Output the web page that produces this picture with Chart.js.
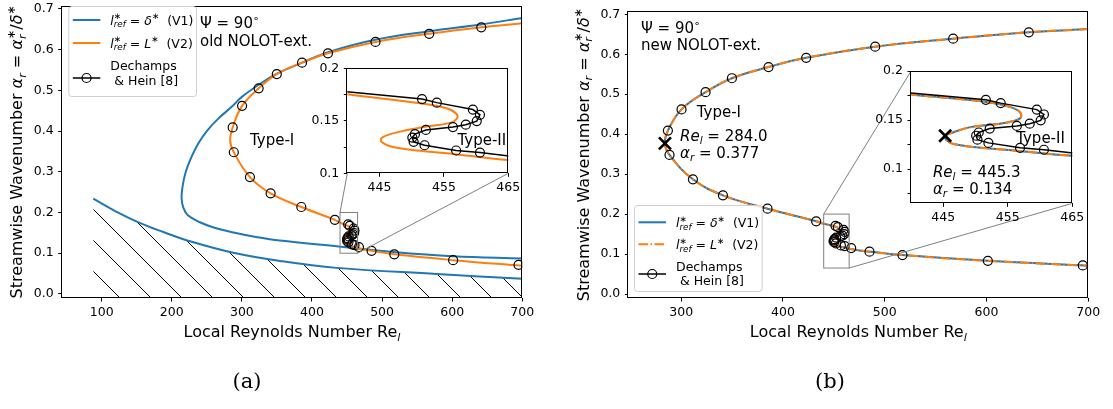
<!DOCTYPE html>
<html>
<head>
<meta charset="utf-8">
<script src="https://cdn.jsdelivr.net/npm/chart.js@4/dist/chart.umd.min.js"></script>
<style>
  html, body { margin: 0; padding: 0; background: #fff; }
  #fig { position: relative; width: 1113px; height: 409px; overflow: hidden; background: #fff; }
  #fig canvas { position: absolute; }
</style>
</head>
<body>
<div id="fig">
  <canvas id="mainA" width="556" height="409" style="left:0px;top:0px"></canvas>
  <canvas id="mainB" width="557" height="409" style="left:556px;top:0px"></canvas>
  <canvas id="insetA" width="225" height="140" style="left:300px;top:60px"></canvas>
  <canvas id="insetB" width="225" height="170" style="left:860px;top:60px"></canvas>
</div>
<script>
// ---------------- data: local Reynolds number Re_l and wavenumber alpha_r ----------------

// (a) old NOLOT-ext., V1 (l*_ref = delta*): closed neutral branch, traced from upper right round the nose
const v1OldRe    = [700, 641, 567, 490, 423, 386, 350, 326, 300, 287, 266, 250, 238, 228, 220, 215.5, 214, 216.5, 223, 240, 262, 288, 320, 354, 435, 516, 601, 700];
const v1OldAlpha = [0.678, 0.662, 0.6455, 0.6245, 0.594, 0.568, 0.541, 0.516, 0.484, 0.462, 0.430, 0.400, 0.370, 0.336, 0.300, 0.265, 0.235, 0.212, 0.193, 0.176, 0.162, 0.151, 0.140, 0.131, 0.117, 0.103, 0.0926, 0.087];

// (a) old NOLOT-ext., V1 second branch (region below it is hatched)
const v1LowRe    = [88, 120, 155, 188, 221, 288, 354, 435, 578, 700];
const v1LowAlpha = [0.234, 0.203, 0.174, 0.152, 0.132, 0.101, 0.081, 0.064, 0.049, 0.037];

// (a) old NOLOT-ext., V2 (l*_ref = L*)
const v2OldRe    = [700, 641.5, 567, 490.6, 422.8, 385.8, 349.8, 323.9, 300.3, 286.9, 283.3, 288.5, 311.5, 341, 384.8, 432.6, 440, 451.3, 455.4, 456.9, 457.0, 455.9, 451.8, 447.7, 445.4, 445.3, 447.1, 451.3, 457.0, 465, 485, 517.4, 601.3, 700];
const v2OldAlpha = [0.665, 0.655, 0.639, 0.619, 0.591, 0.568, 0.540, 0.505, 0.462, 0.409, 0.376, 0.348, 0.287, 0.247, 0.2135, 0.182, 0.1752, 0.1667, 0.1620, 0.1570, 0.1520, 0.1480, 0.1440, 0.1390, 0.1340, 0.1300, 0.1250, 0.1215, 0.1180, 0.1127, 0.106, 0.0974, 0.083, 0.069];

// (b) new NOLOT-ext.: V1 and V2 give the same neutral curve
const newRe    = [700, 641.5, 567.2, 490.6, 422.8, 385.8, 349.8, 323.9, 300.3, 286.9, 284.0, 288.5, 311.5, 341.0, 384.8, 432.6, 440, 451.2, 455.3, 456.9, 457.0, 455.9, 453.5, 449.2, 446.0, 445.3, 445.5, 446.6, 450.5, 456.7, 465, 485, 517.4, 601.3, 700];
const newAlpha = [0.663, 0.655, 0.639, 0.619, 0.591, 0.568, 0.540, 0.505, 0.462, 0.409, 0.377, 0.348, 0.287, 0.247, 0.2135, 0.182, 0.176, 0.169, 0.1635, 0.158, 0.1525, 0.149, 0.146, 0.1428, 0.1362, 0.134, 0.1295, 0.1255, 0.122, 0.1185, 0.1135, 0.106, 0.0974, 0.083, 0.0708];

// Dechamps & Hein [8]
const dhRe    = [641.5, 567.2, 490.6, 422.8, 385.8, 349.8, 323.9, 300.3, 286.9, 288.5, 311.5, 341.0, 384.8, 432.6, 451.6, 453.9, 459.5, 460.6, 460.1, 458.4, 456.4, 452.2, 450.5, 450.1, 450.3, 452.0, 456.9, 460.6, 467.0, 485.0, 517.4, 601.3, 694.6];
const dhAlpha = [0.655, 0.639, 0.619, 0.591, 0.568, 0.540, 0.505, 0.462, 0.409, 0.348, 0.287, 0.247, 0.2135, 0.182, 0.1707, 0.1673, 0.1607, 0.1557, 0.1497, 0.1463, 0.144, 0.1413, 0.1373, 0.134, 0.130, 0.1267, 0.1217, 0.1197, 0.115, 0.106, 0.0974, 0.083, 0.0716];

// critical points of the new model (Type-I, Type-II)
const critRe    = [284.0, 445.3];
const critAlpha = [0.377, 0.134];

// axis ranges and ticks
const reRangeA = [43, 700];
const reRangeB = [248, 700];
const alphaRange = [-0.01, 0.708];
const xTicksA = [100, 200, 300, 400, 500, 600, 700];
const xLabelsA = ['100', '200', '300', '400', '500', '600', '700'];
const xTicksB = [300, 400, 500, 600, 700];
const xLabelsB = ['300', '400', '500', '600', '700'];
const yTicks = [0, 0.1, 0.2, 0.3, 0.4, 0.5, 0.6, 0.7];
const yLabels = ['0.0', '0.1', '0.2', '0.3', '0.4', '0.5', '0.6', '0.7'];

// zoomed windows shown in the insets
const zoomRe = [440, 465];
const zoomAlphaA = [0.1, 0.2];
const zoomAlphaB = [0.065, 0.2];
const insetXTicks = [445, 455, 465];
const insetXLabels = ['445', '455', '465'];
const insetYTicksA = [0.1, 0.125, 0.15, 0.175, 0.2];
const insetYLabelsA = ['0.1', '', '0.15', '', '0.2'];
const insetYTicksB = [0.075, 0.1, 0.125, 0.15, 0.175, 0.2];
const insetYLabelsB = ['', '0.1', '', '0.15', '', '0.2'];

// ---------------- styling ----------------
const FONT = '"DejaVu Sans", Verdana, sans-serif';
const SERIF = '"DejaVu Serif", "Liberation Serif", serif';
const BLUE = '#1f77b4', ORANGE = '#ff7f0e', GREY = '#808080';
const TICK = 12.5, LEG = 12.5, ANN = 15, LAB = 16;
const DASHDOT = [9.6, 2.4, 1.5, 2.4];

// ---------------- rich text (sub/superscripts) ----------------
const T = t => ({t});
const I = t => ({t, i: 1});
const SUB = (t, it = 1) => ({t, i: it, s: 0.7, dy: 0.22});
const SUP = t => ({t, s: 0.7, dy: -0.42});
const STK = r => Object.assign({}, r, {stack: 1});

function fontOf(r, size) { return (r.i ? 'italic ' : '') + (size * (r.s || 1)).toFixed(2) + 'px ' + FONT; }
function layoutRuns(ctx, runs, size) {
  let x = 0, lastStart = 0;
  const items = [];
  for (const r of runs) {
    ctx.font = fontOf(r, size);
    const w = ctx.measureText(r.t).width;
    const sx = r.stack ? lastStart : x;
    if (!r.stack) lastStart = x;
    items.push({r, x: sx});
    x = Math.max(x, sx + w);
  }
  return {items, width: x};
}
function drawRuns(ctx, runs, x, y, size, align) {
  const L = layoutRuns(ctx, runs, size);
  const x0 = align === 'center' ? x - L.width / 2 : align === 'right' ? x - L.width : x;
  ctx.save();
  ctx.fillStyle = '#000';
  ctx.textAlign = 'left';
  ctx.textBaseline = 'alphabetic';
  for (const it of L.items) {
    ctx.font = fontOf(it.r, size);
    ctx.fillText(it.r.t, x0 + it.x, y + (it.r.dy || 0) * size);
  }
  ctx.restore();
}

const yTitleRuns = [T('Streamwise Wavenumber '), I('α'), SUB('r'), T(' = '), I('α'), SUP('∗'), STK(SUB('r')), T('/'), I('δ'), SUP('∗')];
const xTitleRuns = [T('Local Reynolds Number Re'), SUB('l')];
const legV1Runs = [I('l'), SUP('∗'), STK(SUB('ref')), T(' = '), I('δ'), SUP('∗'), T('  (V1)')];
const legV2Runs = [I('l'), SUP('∗'), STK(SUB('ref')), T(' = '), I('L'), SUP('∗'), T('  (V2)')];
const psiRuns = [T('Ψ = 90'), SUP('∘')];
const reRuns = k => [I('Re'), SUB('l'), T(' = ' + critRe[k].toFixed(1))];
const alRuns = k => [I('α'), SUB('r'), T(' = ' + critAlpha[k].toFixed(3))];

// ---------------- helpers ----------------
function pts(xs, ys) { return xs.map((x, i) => ({x, y: ys[i]})); }
function curve(xs, ys, color, extra) {
  return Object.assign({data: pts(xs, ys), borderColor: color, backgroundColor: color, borderWidth: 2,
    pointRadius: 0, tension: 0.4, fill: false}, extra || {});
}
function markers(xs, ys, line) {
  return {data: pts(xs, ys), showLine: !!line, borderColor: '#000', backgroundColor: '#000', borderWidth: 1.5, tension: 0,
    pointStyle: 'circle', pointRadius: 4.5, pointBorderColor: '#000', pointBorderWidth: 1.2,
    pointBackgroundColor: 'rgba(0,0,0,0)', fill: false};
}
function crossMark(xs, ys) {
  return {data: pts(xs, ys), showLine: false, pointStyle: 'crossRot', pointRadius: 8.5,
    pointBorderColor: '#000', pointBorderWidth: 2.6, pointBackgroundColor: '#000', fill: false};
}
function axis(kind, range, ticks, labels, size) {
  return {
    type: 'linear', position: kind === 'x' ? 'bottom' : 'left',
    min: range[0], max: range[1], bounds: 'data',
    afterBuildTicks: sc => { sc.ticks = ticks.map(v => ({value: v})); },
    afterFit: sc => {
      if (kind === 'x') sc.height = size; else sc.width = size;
      sc.paddingTop = 0; sc.paddingBottom = 0; sc.paddingLeft = 0; sc.paddingRight = 0;
    },
    ticks: {autoSkip: false, maxRotation: 0, minRotation: 0, color: '#000',
      font: {family: FONT, size: TICK}, padding: kind === 'x' ? 3.5 : 4.5,
      callback: (v, i) => labels[i]},
    grid: {display: true, drawOnChartArea: false, drawTicks: true, tickLength: 3.5, tickColor: '#000', tickWidth: 1},
    border: {display: false},
    title: {display: false}
  };
}
function options(pad, xs, ys) {
  return {
    responsive: false, animation: false, events: [],
    layout: {padding: pad},
    scales: {x: xs, y: ys},
    plugins: {legend: {display: false}, tooltip: {enabled: false}}
  };
}
function makeHatch(canvas, step, shift) {
  const c = document.createElement('canvas');
  c.width = c.height = step;
  const g = c.getContext('2d');
  g.strokeStyle = '#000';
  g.lineWidth = 1;
  g.beginPath();
  for (const k of [-1, 0, 1]) { g.moveTo(k * step - 1, -1); g.lineTo(k * step + step + 1, step + 1); }
  g.stroke();
  const p = canvas.getContext('2d').createPattern(c, 'repeat');
  p.setTransform(new DOMMatrix().translate(shift, 0));
  return p;
}
function frame(ctx, a) {
  ctx.save();
  ctx.strokeStyle = '#000';
  ctx.lineWidth = 1;
  const l = Math.round(a.left) - 0.5, t = Math.round(a.top) + 0.5;
  const r = Math.round(a.right) - 0.5, b = Math.round(a.bottom) - 0.5;
  ctx.strokeRect(l, t, r - l, b - t);
  ctx.restore();
}
function annotate(chart, list) {
  const {ctx, scales} = chart;
  for (const n of list) {
    drawRuns(chart.ctx, n.runs, scales.x.getPixelForValue(n.re), scales.y.getPixelForValue(n.alpha), n.size || ANN, 'left');
  }
}
function drawZoom(chart, alphaWin, inset, links) {
  const {ctx, scales: {x: sx, y: sy}} = chart;
  const L = sx.getPixelForValue(zoomRe[0]), R = sx.getPixelForValue(zoomRe[1]);
  const Tp = sy.getPixelForValue(alphaWin[1]), B = sy.getPixelForValue(alphaWin[0]);
  const box = {tl: [L, Tp], tr: [R, Tp], bl: [L, B], br: [R, B]};
  const c = inset.canvas, a = inset.chartArea;
  const ox = c.offsetLeft - chart.canvas.offsetLeft, oy = c.offsetTop - chart.canvas.offsetTop;
  const ins = {tl: [ox + a.left, oy + a.top], tr: [ox + a.right, oy + a.top],
               bl: [ox + a.left, oy + a.bottom], br: [ox + a.right, oy + a.bottom]};
  ctx.save();
  ctx.strokeStyle = GREY;
  ctx.lineWidth = 1;
  ctx.strokeRect(L, Tp, R - L, B - Tp);
  ctx.beginPath();
  for (const [p, q] of links) { ctx.moveTo(box[p][0], box[p][1]); ctx.lineTo(ins[q][0], ins[q][1]); }
  ctx.stroke();
  ctx.restore();
}
function drawLegend(ctx, lg) {
  const {x, y, w, h} = lg.box;
  ctx.save();
  ctx.beginPath();
  ctx.roundRect(x + 0.5, y + 0.5, w, h, 3);
  ctx.fillStyle = 'rgba(255,255,255,0.8)';
  ctx.fill();
  ctx.strokeStyle = '#d0d0d0';
  ctx.lineWidth = 1;
  ctx.stroke();
  const hx0 = x + 4.5, hx1 = x + 32, tx = x + 42;
  for (const e of lg.items) {
    const hy = y + e.dy;
    ctx.save();
    ctx.strokeStyle = e.color;
    ctx.lineWidth = e.width || 2;
    ctx.setLineDash(e.dash || []);
    ctx.beginPath(); ctx.moveTo(hx0, hy); ctx.lineTo(hx1, hy); ctx.stroke();
    ctx.restore();
    if (e.marker) {
      ctx.beginPath();
      ctx.arc((hx0 + hx1) / 2, hy, 4.5, 0, 2 * Math.PI);
      ctx.lineWidth = 1.2; ctx.strokeStyle = '#000'; ctx.stroke();
    }
    for (const ln of e.lines) drawRuns(ctx, ln.runs, tx, y + ln.dy, LEG, 'left');
  }
  ctx.restore();
}
function decor(o) {
  return {
    id: 'decor',
    beforeDraw(chart) {
      const {ctx, chartArea: a} = chart;
      ctx.save();
      ctx.fillStyle = '#fff';
      if (o.whole) ctx.fillRect(0, 0, chart.width, chart.height);
      else ctx.fillRect(a.left, a.top, a.right - a.left, a.bottom - a.top);
      ctx.restore();
    },
    afterDatasetsDraw(chart) {
      if (o.zoom) drawZoom(chart, o.zoom.alpha, o.zoom.inset, o.zoom.links);
    },
    afterDraw(chart) {
      const {ctx, chartArea: a} = chart;
      frame(ctx, a);
      if (o.notes) annotate(chart, o.notes);
      if (o.legend) drawLegend(ctx, o.legend);
      if (o.titles) {
        drawRuns(ctx, xTitleRuns, (a.left + a.right) / 2, a.bottom + 39, LAB, 'center');
        ctx.save();
        ctx.translate(a.left - 45.4, (a.top + a.bottom) / 2);
        ctx.rotate(-Math.PI / 2);
        drawRuns(ctx, yTitleRuns, 0, LAB * 0.36, LAB, 'center');
        ctx.restore();
      }
      if (o.caption) {
        ctx.save();
        ctx.fillStyle = '#000';
        ctx.font = '21px ' + SERIF;
        ctx.textAlign = 'center';
        ctx.textBaseline = 'middle';
        ctx.fillText(o.caption.text, o.caption.x, o.caption.y);
        ctx.restore();
      }
    }
  };
}

// ---------------- insets ----------------
const insetA = new Chart(document.getElementById('insetA'), {
  type: 'line',
  data: {datasets: [
    markers(dhRe, dhAlpha, true),
    curve(v2OldRe, v2OldAlpha, ORANGE)
  ]},
  options: options({left: 0, right: 16.7, top: 8.3, bottom: 6.7},
    axis('x', zoomRe, insetXTicks, insetXLabels, 20),
    axis('y', zoomAlphaA, insetYTicksA, insetYLabelsA, 47.3)),
  plugins: [decor({notes: [{runs: [T('Type-II')], re: 457.1, alpha: 0.127}]})]
});

const insetB = new Chart(document.getElementById('insetB'), {
  type: 'line',
  data: {datasets: [
    crossMark([critRe[1]], [critAlpha[1]]),
    markers(dhRe, dhAlpha, true),
    curve(newRe, newAlpha, ORANGE, {borderDash: DASHDOT}),
    curve(newRe, newAlpha, BLUE)
  ]},
  options: options({left: 0, right: 12.7, top: 9, bottom: 6.7},
    axis('x', zoomRe, insetXTicks, insetXLabels, 20),
    axis('y', zoomAlphaB, insetYTicksB, insetYLabelsB, 51)),
  plugins: [decor({notes: [
    {runs: [T('Type-II')], re: 456.3, alpha: 0.1269},
    {runs: reRuns(1), re: 443.4, alpha: 0.0917},
    {runs: alRuns(1), re: 443.4, alpha: 0.0743}
  ]})]
});

// ---------------- main panels ----------------
const canvasA = document.getElementById('mainA');
const hatch = makeHatch(canvasA, 31, 8);

new Chart(canvasA, {
  type: 'line',
  data: {datasets: [
    markers(dhRe, dhAlpha, false),
    curve(v2OldRe, v2OldAlpha, ORANGE),
    curve(v1OldRe, v1OldAlpha, BLUE),
    curve(v1LowRe, v1LowAlpha, BLUE, {fill: 'start', backgroundColor: hatch})
  ]},
  options: options({left: 0, right: 33.7, top: 1, bottom: 61},
    axis('x', reRangeA, xTicksA, xLabelsA, 50),
    axis('y', alphaRange, yTicks, yLabels, 61.7)),
  plugins: [decor({
    whole: true, titles: true,
    zoom: {alpha: zoomAlphaA, inset: insetA, links: [['tl', 'bl'], ['br', 'br']]},
    notes: [
      {runs: psiRuns, re: 240.2, alpha: 0.6524},
      {runs: [T('old NOLOT-ext.')], re: 240.2, alpha: 0.6096},
      {runs: [T('Type-I')], re: 311.5, alpha: 0.3654}
    ],
    legend: {box: {x: 68.3, y: 6, w: 127.7, h: 90}, items: [
      {color: BLUE, dy: 14, lines: [{runs: legV1Runs, dy: 18.5}]},
      {color: ORANGE, dy: 37, lines: [{runs: legV2Runs, dy: 41.5}]},
      {color: '#000', width: 1.5, marker: true, dy: 72, lines: [{runs: [T('Dechamps')], dy: 64}, {runs: [T(' & Hein [8]')], dy: 79}]}
    ]},
    caption: {text: '(a)', x: 247, y: 383}
  })]
});

new Chart(document.getElementById('mainB'), {
  type: 'line',
  data: {datasets: [
    crossMark([critRe[0]], [critAlpha[0]]),
    markers(dhRe, dhAlpha, false),
    curve(newRe, newAlpha, ORANGE, {borderDash: DASHDOT}),
    curve(newRe, newAlpha, BLUE)
  ]},
  options: options({left: 0, right: 24.7, top: 1, bottom: 61},
    axis('x', reRangeB, xTicksB, xLabelsB, 50),
    axis('y', alphaRange, yTicks, yLabels, 72.3)),
  plugins: [decor({
    whole: true, titles: true,
    zoom: {alpha: zoomAlphaB, inset: insetB, links: [['tl', 'tl'], ['br', 'br']]},
    notes: [
      {runs: psiRuns, re: 260.5, alpha: 0.6524},
      {runs: [T('new NOLOT-ext.')], re: 260.5, alpha: 0.6096},
      {runs: [T('Type-I')], re: 315.2, alpha: 0.442},
      {runs: reRuns(0), re: 298.8, alpha: 0.384},
      {runs: alRuns(0), re: 298.8, alpha: 0.341}
    ],
    legend: {box: {x: 78, y: 205, w: 127.7, h: 86}, items: [
      {color: BLUE, dy: 17.3, lines: [{runs: legV1Runs, dy: 21.8}]},
      {color: ORANGE, dash: DASHDOT, dy: 39.3, lines: [{runs: legV2Runs, dy: 43.8}]},
      {color: '#000', width: 1.5, marker: true, dy: 69, lines: [{runs: [T('Dechamps')], dy: 65.5}, {runs: [T(' & Hein [8]')], dy: 79.5}]}
    ]},
    caption: {text: '(b)', x: 274, y: 383}
  })]
});
</script>
</body>
</html>
